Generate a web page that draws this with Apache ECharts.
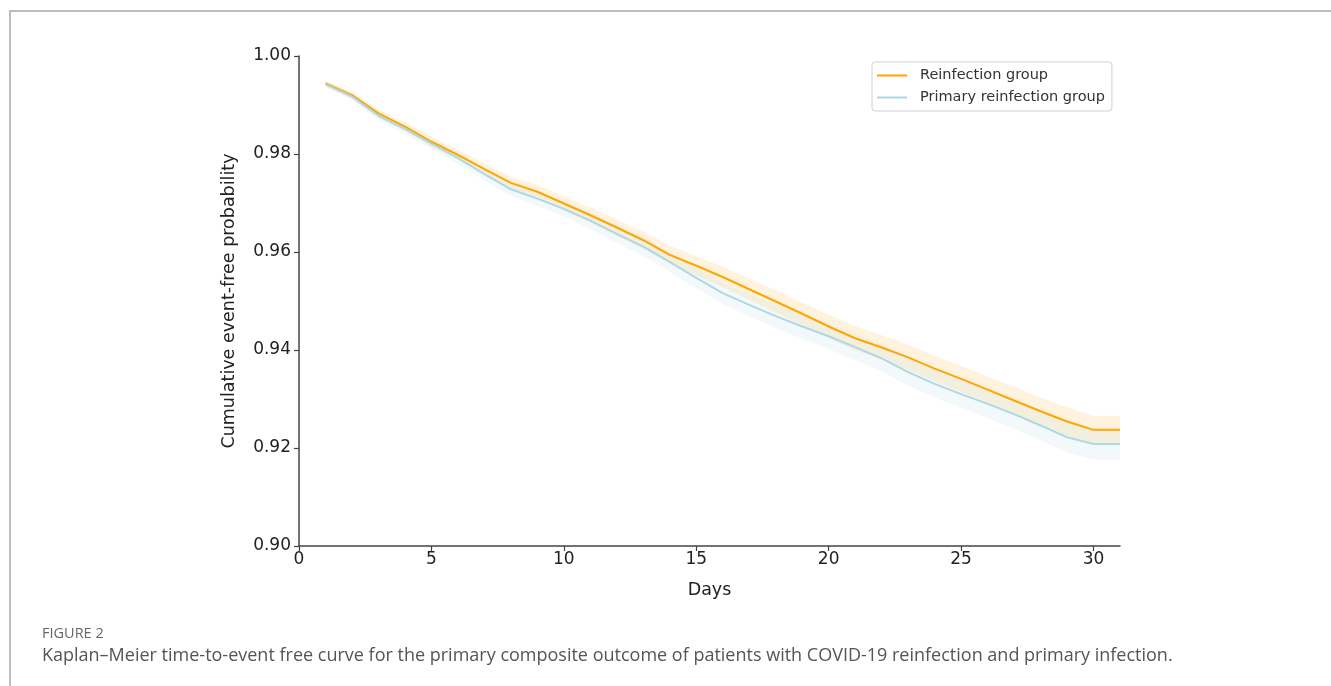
<!DOCTYPE html>
<html>
<head>
<meta charset="utf-8">
<script src="https://cdn.jsdelivr.net/npm/echarts@6/dist/echarts.min.js"></script>
<style>
html,body{margin:0;padding:0;background:#fff;}
#frame{position:absolute;left:9px;top:10px;width:1330px;height:690px;border-top:2px solid #bdbdbd;border-left:2px solid #bdbdbd;box-sizing:border-box;}
#chart{position:absolute;left:0;top:0;width:1331px;height:686px;}
</style>
</head>
<body>
<div id="frame"></div>
<div id="chart"></div>
<script>
const days = [1,2,3,4,5,6,7,8,9,10,11,12,13,14,15,16,17,18,19,20,21,22,23,24,25,26,27,28,29,30,31];
const reinfection = [0.9944,0.9920,0.9883,0.9856,0.9825,0.9798,0.9769,0.9741,0.9723,0.9699,0.9675,0.9650,0.9624,0.9594,0.9572,0.9549,0.9524,0.9499,0.9474,0.9448,0.9424,0.9405,0.9385,0.9362,0.9341,0.9319,0.9297,0.9275,0.9254,0.9237,0.9237];
const reinfectionLow = [0.9938,0.9913,0.9875,0.9847,0.9815,0.9787,0.9757,0.9728,0.9709,0.9684,0.9659,0.9633,0.9606,0.9575,0.9552,0.9528,0.9502,0.9476,0.9451,0.9424,0.9399,0.9380,0.9359,0.9336,0.9314,0.9292,0.9269,0.9247,0.9225,0.9208,0.9208];
const reinfectionHigh = [0.9950,0.9927,0.9891,0.9865,0.9835,0.9809,0.9781,0.9754,0.9737,0.9714,0.9691,0.9667,0.9642,0.9613,0.9592,0.9570,0.9546,0.9522,0.9497,0.9472,0.9449,0.9430,0.9411,0.9388,0.9368,0.9346,0.9325,0.9303,0.9283,0.9266,0.9266];
const primary = [0.9942,0.9917,0.9878,0.9851,0.9821,0.9792,0.9759,0.9728,0.9709,0.9688,0.9664,0.9637,0.9611,0.9580,0.9547,0.9516,0.9492,0.9469,0.9448,0.9428,0.9406,0.9383,0.9355,0.9331,0.9310,0.9290,0.9269,0.9246,0.9222,0.9208,0.9208];
const primaryLow = [0.9936,0.9910,0.9869,0.9841,0.9810,0.9780,0.9746,0.9714,0.9694,0.9672,0.9647,0.9619,0.9592,0.9560,0.9526,0.9494,0.9469,0.9445,0.9423,0.9402,0.9379,0.9356,0.9327,0.9303,0.9281,0.9261,0.9239,0.9216,0.9191,0.9176,0.9176];
const primaryHigh = [0.9948,0.9924,0.9887,0.9861,0.9832,0.9804,0.9772,0.9742,0.9724,0.9704,0.9681,0.9655,0.9630,0.9600,0.9568,0.9538,0.9515,0.9493,0.9473,0.9454,0.9433,0.9410,0.9383,0.9359,0.9339,0.9319,0.9299,0.9276,0.9253,0.9240,0.9240];
const xTicks = [0,5,10,15,20,25,30];
const yTicks = [0.90,0.92,0.94,0.96,0.98,1.00];
const seriesNames = ['Reinfection group','Primary reinfection group'];
const captionLabel = 'FIGURE 2';
const captionText = 'Kaplan\u2013Meier time-to-event free curve for the primary composite outcome of patients with COVID-19 reinfection and primary infection.';

const pairs = (ys) => days.map((d, i) => [d, ys[i]]);
const triples = (lo, hi) => days.map((d, i) => [d, lo[i], hi[i]]);

const ORANGE = '#FFA500';
const BLUE = '#ADD8E6';
const FONT = 'DejaVu Sans';

function bandRenderer(lo, hi, color, opacity) {
  return function (params, api) {
    if (params.dataIndex !== 0) return null;
    const pts = [];
    for (let i = 0; i < days.length; i++) pts.push(api.coord([days[i], hi[i]]));
    for (let i = days.length - 1; i >= 0; i--) pts.push(api.coord([days[i], lo[i]]));
    return {type: 'polygon', shape: {points: pts}, style: {fill: color, opacity: opacity}, silent: true};
  };
}

const chart = echarts.init(document.getElementById('chart'), null, {renderer: 'canvas'});
chart.setOption({
  animation: false,
  backgroundColor: 'transparent',
  grid: {left: 299, right: 211, top: 56, bottom: 140, containLabel: false},
  xAxis: {
    type: 'value', min: 0, max: 31, interval: 5,
    name: 'Days', nameLocation: 'middle', nameGap: 35,
    nameTextStyle: {fontFamily: FONT, fontSize: 17.5, color: '#222'},
    axisLine: {show: true, lineStyle: {color: '#444', width: 1.5}},
    axisTick: {show: true, length: 5, lineStyle: {color: '#444', width: 1.2}, customValues: xTicks},
    axisLabel: {fontFamily: FONT, fontSize: 17, color: '#222', margin: 5, customValues: xTicks},
    splitLine: {show: false}
  },
  yAxis: {
    type: 'value', min: 0.90, max: 1.00, interval: 0.02,
    name: 'Cumulative event-free probability', nameLocation: 'middle', nameGap: 61,
    nameTextStyle: {fontFamily: FONT, fontSize: 17.5, color: '#222'},
    axisLine: {show: true, lineStyle: {color: '#444', width: 1.5}},
    axisTick: {show: true, length: 5, lineStyle: {color: '#444', width: 1.2}, customValues: yTicks},
    axisLabel: {fontFamily: FONT, fontSize: 17, color: '#222', margin: 8, customValues: yTicks,
      formatter: (v) => v.toFixed(2)},
    splitLine: {show: false}
  },
  legend: {
    orient: 'vertical', left: 872, top: 62,
    data: seriesNames,
    icon: 'rect', itemWidth: 30, itemHeight: 2, itemGap: 7,
    padding: [6, 7, 6, 5],
    borderColor: '#d0d0d0', borderWidth: 1, borderRadius: 3,
    backgroundColor: '#fff',
    textStyle: {fontFamily: FONT, fontSize: 14.5, color: '#333', padding: [0, 0, 0, 8]}
  },
  series: [
    {name: 'rBand', type: 'custom', data: triples(reinfectionLow, reinfectionHigh),
     renderItem: bandRenderer(reinfectionLow, reinfectionHigh, ORANGE, 0.13), silent: true, z: 1},
    {name: seriesNames[0], type: 'line', data: pairs(reinfection), symbol: 'none',
     lineStyle: {color: ORANGE, width: 2}, itemStyle: {color: ORANGE}, z: 3},
    {name: 'pBand', type: 'custom', data: triples(primaryLow, primaryHigh),
     renderItem: bandRenderer(primaryLow, primaryHigh, BLUE, 0.14), silent: true, z: 2},
    {name: seriesNames[1], type: 'line', data: pairs(primary), symbol: 'none',
     lineStyle: {color: BLUE, width: 2}, itemStyle: {color: BLUE}, z: 4}
  ],
  graphic: [
    {type: 'text', left: 42, top: 626,
     style: {text: captionLabel, fontFamily: 'Open Sans', fontSize: 14.5, fill: '#666'}},
    {type: 'text', left: 42, top: 647,
     style: {text: captionText, fontFamily: 'Open Sans', fontSize: 18, fill: '#555'}}
  ]
});
</script>
</body>
</html>
